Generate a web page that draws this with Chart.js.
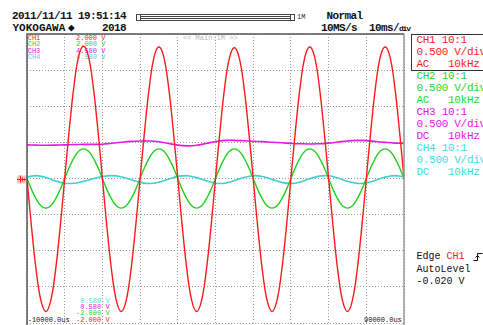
<!DOCTYPE html>
<html>
<head>
<meta charset="utf-8">
<script src="https://cdn.jsdelivr.net/npm/chart.js@4.4.0/dist/chart.umd.min.js"></script>
<style>
  body { margin: 0; background: #fff; }
  #wrap { position: relative; width: 483px; height: 325px; overflow: hidden; font-family: "Liberation Mono", "DejaVu Sans Mono", monospace; }
  #scope { position: absolute; left: 0; top: 0; z-index: 2; }
  .t { position: absolute; white-space: pre; line-height: 1; z-index: 1; }
  .hd { font-size: 11px; font-weight: bold; letter-spacing: -0.6px; color: #111; }
  .sm { font-size: 7px; }
  .pn { font-size: 11px; letter-spacing: -0.3px; }
  .tr { font-size: 10px; color: #111; }
  .red { color: #ff1a1a; } .grn { color: #1fd81f; } .mag { color: #ee10ee; } .cyn { color: #40dede; }
  #bar { position: absolute; left: 136px; top: 14px; width: 157px; height: 5px; border: 1px solid #444; z-index: 1; }
  #bar .in { position: absolute; left: 4px; right: 4px; top: 1px; height: 1px; border-top: 1px solid #444; border-bottom: 1px solid #444; }
  #bar .end { position: absolute; top: -1px; width: 3px; height: 5px; border: 1px solid #444; }
  #chbox { position: absolute; left: 411px; top: 34px; width: 80px; height: 35px; border: 1px solid #333; z-index: 1; }
</style>
</head>
<body>
<div id="wrap">
  <div class="t hd" style="left:12px;top:10.6px">2011/11/11 19:51:14</div>
  <div id="bar"><div class="in"></div><div class="end" style="left:-1px"></div><div class="end" style="right:-1px"></div></div>
  <div class="t" style="left:297px;top:14px;font-size:7px;color:#333">1M</div>
  <div class="t hd" style="left:326.5px;top:10.6px">Normal</div>
  <div class="t hd" style="left:12.5px;top:23.1px;letter-spacing:0">YOKOGAWA</div>
  <div class="t hd" style="left:68px;top:22.6px;letter-spacing:0">&#9670;</div>
  <div class="t hd" style="left:102px;top:23.1px">2018</div>
  <div class="t hd" style="left:321px;top:23.1px">10MS/s</div>
  <div class="t hd" style="left:369px;top:23.1px">10ms/<span style="font-size:8px;letter-spacing:-1.2px">div</span></div>

  <div class="t sm red" style="left:27.7px;top:35.25px">CH1</div>
  <div class="t sm grn" style="left:27.7px;top:41.45px">CH2</div>
  <div class="t sm mag" style="left:27.7px;top:47.75px">CH3</div>
  <div class="t sm cyn" style="left:27.7px;top:53.95px">CH4</div>
  <div class="t sm red" style="left:76px;top:35.25px">2.000 V</div>
  <div class="t sm grn" style="left:76px;top:41.45px">2.000 V</div>
  <div class="t sm mag" style="left:76px;top:47.75px">4.580 V</div>
  <div class="t sm cyn" style="left:76px;top:53.95px">4.580 V</div>
  <div class="t sm" style="left:183px;top:35.25px;color:#bbb">&lt;&lt; Main:1M &gt;&gt;</div>

  <div class="t sm cyn" style="left:76px;top:298.45px"> 0.580 V</div>
  <div class="t sm mag" style="left:76px;top:304.25px"> 0.580 V</div>
  <div class="t sm grn" style="left:76px;top:310.45px">-2.000 V</div>
  <div class="t sm red" style="left:76px;top:317.45px">-2.000 V</div>
  <div class="t sm" style="left:27.7px;top:317.45px;color:#111">-10000.0us</div>
  <div class="t sm" style="left:364px;top:317.45px;color:#111">90000.0us</div>

  <div id="chbox"></div>
  <div class="t pn red" style="left:416.5px;top:35.25px">CH1 10:1</div>
  <div class="t pn red" style="left:416.5px;top:47.25px">0.500 V/div</div>
  <div class="t pn red" style="left:416.5px;top:59.25px">AC   10kHz</div>
  <div class="t pn grn" style="left:416.5px;top:71.25px">CH2 10:1</div>
  <div class="t pn grn" style="left:416.5px;top:83.25px">0.500 V/div</div>
  <div class="t pn grn" style="left:416.5px;top:95.25px">AC   10kHz</div>
  <div class="t pn mag" style="left:416.5px;top:107.25px">CH3 10:1</div>
  <div class="t pn mag" style="left:416.5px;top:119.25px">0.500 V/div</div>
  <div class="t pn mag" style="left:416.5px;top:131.25px">DC   10kHz</div>
  <div class="t pn cyn" style="left:416.5px;top:143.25px">CH4 10:1</div>
  <div class="t pn cyn" style="left:416.5px;top:155.25px">0.500 V/div</div>
  <div class="t pn cyn" style="left:416.5px;top:167.25px">DC   10kHz</div>

  <div class="t tr" style="left:416.5px;top:252.3px">Edge <span class="red">CH1</span></div>
  <svg style="position:absolute;left:473px;top:252px" width="10" height="10">
    <polyline points="0.5,8.5 4.5,8.5 4.5,1.5 9.5,1.5" fill="none" stroke="#111" stroke-width="1"/>
    <polyline points="2.5,5.5 4.5,3.5 6.5,5.5" fill="none" stroke="#111" stroke-width="1"/>
  </svg>
  <div class="t tr" style="left:416.5px;top:265px">AutoLevel</div>
  <div class="t tr" style="left:416.5px;top:277.3px">-0.020 V</div>

  <canvas id="scope" width="483" height="325"></canvas>
</div>
<script>
// sample times (ms) for the fast traces, every 1.25 ms
const fastTimes = [
  -10, -8.75, -7.5, -6.25, -5, -3.75, -2.5, -1.25, 0, 1.25, 2.5, 3.75, 5, 6.25, 7.5, 8.75,
  10, 11.25, 12.5, 13.75, 15, 16.25, 17.5, 18.75, 20, 21.25, 22.5, 23.75, 25, 26.25, 27.5, 28.75,
  30, 31.25, 32.5, 33.75, 35, 36.25, 37.5, 38.75, 40, 41.25, 42.5, 43.75, 45, 46.25, 47.5, 48.75,
  50, 51.25, 52.5, 53.75, 55, 56.25, 57.5, 58.75, 60, 61.25, 62.5, 63.75, 65, 66.25, 67.5, 68.75,
  70, 71.25, 72.5, 73.75, 75, 76.25, 77.5, 78.75, 80, 81.25, 82.5, 83.75, 85, 86.25, 87.5, 88.75,
  90
];

// CH1 (V)
const ch1Volts = [
  0, -0.70, -1.30, -1.70, -1.84, -1.70, -1.30, -0.70, 0, 0.70, 1.30, 1.70, 1.83, 1.70, 1.30, 0.70,
  0, -0.70, -1.30, -1.70, -1.84, -1.70, -1.30, -0.70, 0, 0.69, 1.29, 1.69, 1.82, 1.69, 1.29, 0.69,
  0, -0.70, -1.30, -1.70, -1.84, -1.70, -1.30, -0.70, 0, 0.69, 1.29, 1.68, 1.81, 1.68, 1.29, 0.69,
  0, -0.70, -1.30, -1.70, -1.84, -1.70, -1.30, -0.70, 0, 0.69, 1.29, 1.69, 1.82, 1.69, 1.29, 0.69,
  0, -0.70, -1.30, -1.70, -1.84, -1.70, -1.30, -0.70, 0, 0.69, 1.29, 1.69, 1.82, 1.69, 1.29, 0.69,
  0
];

// CH2 (V)
const ch2Volts = [
  0, -0.16, -0.29, -0.38, -0.41, -0.38, -0.29, -0.16, 0, 0.16, 0.29, 0.38, 0.41, 0.38, 0.29, 0.16,
  0, -0.16, -0.29, -0.38, -0.41, -0.38, -0.29, -0.16, 0, 0.16, 0.29, 0.38, 0.41, 0.38, 0.29, 0.16,
  0, -0.16, -0.29, -0.38, -0.41, -0.38, -0.29, -0.16, 0, 0.16, 0.29, 0.38, 0.41, 0.38, 0.29, 0.16,
  0, -0.16, -0.29, -0.38, -0.41, -0.38, -0.29, -0.16, 0, 0.16, 0.29, 0.38, 0.41, 0.38, 0.29, 0.16,
  0, -0.16, -0.29, -0.38, -0.41, -0.38, -0.29, -0.16, 0, 0.16, 0.29, 0.38, 0.41, 0.38, 0.29, 0.16,
  0
];

// sample times (ms) for the slow traces, every 2.5 ms
const slowTimes = [
  -10, -7.5, -5, -2.5, 0, 2.5, 5, 7.5, 10, 12.5, 15, 17.5, 20, 22.5, 25, 27.5, 30, 32.5, 35, 37.5,
  40, 42.5, 45, 47.5, 50, 52.5, 55, 57.5, 60, 62.5, 65, 67.5, 70, 72.5, 75, 77.5, 80, 82.5, 85, 87.5, 90
];

// CH3 (V)
const ch3Volts = [
  3.045, 3.042, 3.040, 3.042, 3.046, 3.050, 3.052, 3.052, 3.055, 3.068, 3.082, 3.094, 3.100, 3.099,
  3.088, 3.065, 3.042, 3.032, 3.040, 3.065, 3.092, 3.108, 3.108, 3.102, 3.095, 3.090, 3.082, 3.074,
  3.066, 3.060, 3.058, 3.060, 3.070, 3.085, 3.100, 3.108, 3.104, 3.092, 3.080, 3.070, 3.066
];

// CH4 (V)
const ch4Volts = [
  2.600, 2.620, 2.594, 2.547, 2.513, 2.515, 2.540, 2.576, 2.608, 2.620, 2.604, 2.566, 2.527, 2.510,
  2.527, 2.570, 2.609, 2.619, 2.592, 2.548, 2.514, 2.515, 2.550, 2.594, 2.619, 2.608, 2.568, 2.526,
  2.510, 2.532, 2.576, 2.613, 2.617, 2.586, 2.541, 2.512, 2.519, 2.557, 2.600, 2.620, 2.604
];

const pairs = (xs, ys) => xs.map((x, i) => ({ x: x, y: ys[i] }));

// frame round the graticule and the ground marker on the left
const scopeFrame = {
  id: 'scopeFrame',
  afterDraw(chart) {
    const { ctx, chartArea: a } = chart;
    ctx.save();
    ctx.lineWidth = 1.5;
    ctx.strokeStyle = '#555';
    ctx.beginPath();
    ctx.moveTo(a.left, a.bottom + 2);
    ctx.lineTo(a.left, a.top);
    ctx.lineTo(a.right, a.top);
    ctx.stroke();
    ctx.strokeStyle = '#999';
    ctx.beginPath();
    ctx.moveTo(a.right, a.top);
    ctx.lineTo(a.right, a.bottom + 2);
    ctx.stroke();

    const gy = Math.round(chart.scales.y.getPixelForValue(0)) + 0.5;
    ctx.fillStyle = 'rgba(255,150,150,0.6)';
    ctx.fillRect(17, gy - 4, 9, 8);
    ctx.strokeStyle = '#ff1a1a';
    ctx.lineWidth = 1;
    ctx.beginPath();
    ctx.moveTo(17, gy); ctx.lineTo(26, gy);
    ctx.moveTo(20.5, gy - 4); ctx.lineTo(20.5, gy + 3);
    ctx.moveTo(22.5, gy - 2); ctx.lineTo(22.5, gy + 2);
    ctx.moveTo(24.5, gy - 1); ctx.lineTo(24.5, gy + 1);
    ctx.stroke();
    ctx.restore();
  }
};

const gridStyle = { color: '#9a9a9a', lineWidth: 1, drawTicks: false };

new Chart(document.getElementById('scope').getContext('2d'), {
  type: 'line',
  data: {
    datasets: [
      { label: 'CH1', data: pairs(fastTimes, ch1Volts), yAxisID: 'y', borderColor: '#ff1a1a', borderWidth: 1.4, order: 0 },
      { label: 'CH2', data: pairs(fastTimes, ch2Volts), yAxisID: 'y', borderColor: '#22d022', borderWidth: 1.4, order: 1 },
      { label: 'CH4', data: pairs(slowTimes, ch4Volts), yAxisID: 'y2', borderColor: '#3fd0d0', borderWidth: 1.6, order: 2 },
      { label: 'CH3', data: pairs(slowTimes, ch3Volts), yAxisID: 'y2', borderColor: '#e51ae5', borderWidth: 1.6, order: 3 }
    ]
  },
  options: {
    responsive: false,
    animation: false,
    events: [],
    layout: { padding: { left: 27, top: 34, right: 79, bottom: 2 } },
    elements: { point: { radius: 0 }, line: { tension: 0.4 } },
    plugins: { legend: { display: false }, tooltip: { enabled: false } },
    scales: {
      x: {
        type: 'linear', min: -10, max: 90,
        ticks: { display: false, stepSize: 10 },
        grid: gridStyle,
        border: { display: false, dash: [1, 2] }
      },
      y: {
        min: -2, max: 2,
        ticks: { display: false, stepSize: 0.5 },
        grid: gridStyle,
        border: { display: false, dash: [1, 2] }
      },
      y2: { min: 0.58, max: 4.58, display: false }
    }
  },
  plugins: [scopeFrame]
});
</script>
</body>
</html>
